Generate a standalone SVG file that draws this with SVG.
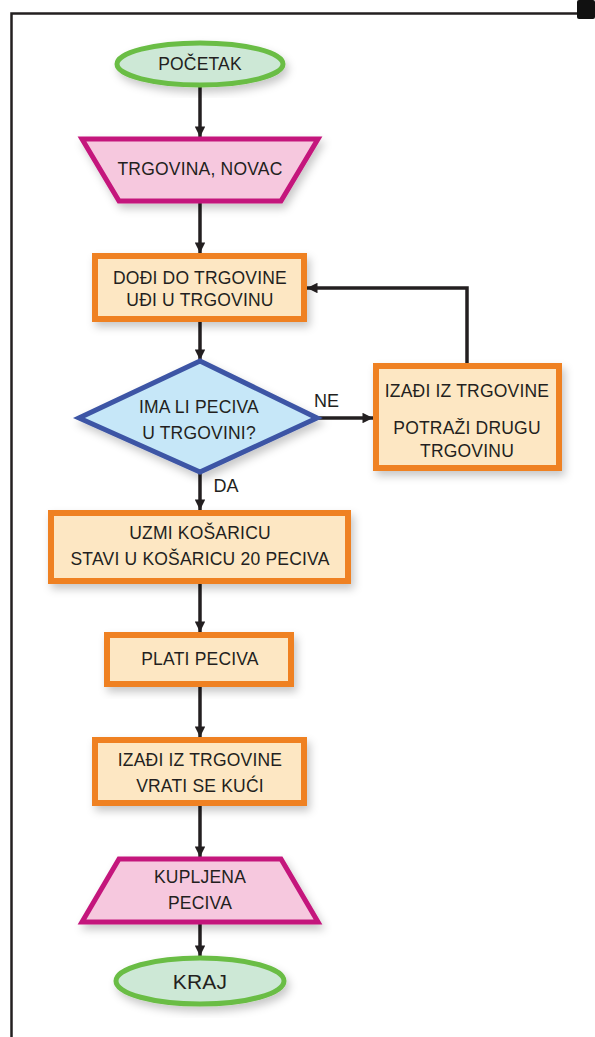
<svg xmlns="http://www.w3.org/2000/svg" width="595" height="1037" viewBox="0 0 595 1037">
<style>
text{font-family:"Liberation Sans",Arial,sans-serif;font-size:17.5px;fill:#231f20;text-anchor:middle;letter-spacing:0.2px}
.term{fill:#cde8d6;stroke:#6abd45;stroke-width:5}
.io{fill:#f6c8de;stroke:#c4177c;stroke-width:5;stroke-linejoin:miter}
.proc{fill:#fde7c3;stroke:#ef8123;stroke-width:6}
.dec{fill:#c6e7f8;stroke:#3c55a5;stroke-width:5;stroke-linejoin:miter}
.edge{fill:none;stroke:#231f20;stroke-width:3.5}
.lbl{font-size:18px;letter-spacing:0}
</style>
<defs>
<marker id="ah" viewBox="0 0 10 10" refX="10" refY="5" markerWidth="3.2" markerHeight="3" orient="auto" markerUnits="strokeWidth">
<path d="M0,0 L10,5 L0,10 z" fill="#231f20"/>
</marker>
<filter id="sh" x="-20%" y="-20%" width="140%" height="150%">
<feDropShadow dx="3" dy="5" stdDeviation="4" flood-color="#000" flood-opacity="0.22"/>
</filter>
</defs>
<rect width="595" height="1037" fill="#fff"/>
<g id="frame">
<path d="M11.5,1037 V13.5 H584" fill="none" stroke="#231f20" stroke-width="2.5"/>
<rect x="577" y="0" width="18" height="19" rx="2" fill="#111"/>
</g>
<g id="connectors">
<path class="edge" d="M200,86 V137" marker-end="url(#ah)"/>
<path class="edge" d="M200,202 V253" marker-end="url(#ah)"/>
<path class="edge" d="M200,322 V360" marker-end="url(#ah)"/>
<path class="edge" d="M318,418 H373" marker-end="url(#ah)"/>
<path class="edge" d="M467,363 V288 H307" marker-end="url(#ah)"/>
<path class="edge" d="M200,473 V510" marker-end="url(#ah)"/>
<path class="edge" d="M200,584 V632" marker-end="url(#ah)"/>
<path class="edge" d="M200,687 V737" marker-end="url(#ah)"/>
<path class="edge" d="M200,806 V857" marker-end="url(#ah)"/>
<path class="edge" d="M200,924 V956" marker-end="url(#ah)"/>
<text class="lbl" x="326.5" y="407">NE</text>
<text class="lbl" x="226" y="492">DA</text>
</g>
<g id="start">
<ellipse class="term" cx="200" cy="64" rx="83" ry="21" filter="url(#sh)"/>
<text x="200" y="70">POČETAK</text>
</g>
<g id="input">
<polygon class="io" points="82,139 318,139 281,201 119,201" filter="url(#sh)"/>
<text x="200" y="175">TRGOVINA, NOVAC</text>
</g>
<g id="goto">
<rect class="proc" x="95" y="256" width="209" height="63" filter="url(#sh)"/>
<text x="200" y="284">DOĐI DO TRGOVINE</text>
<text x="200" y="306">UĐI U TRGOVINU</text>
</g>
<g id="decision">
<polygon class="dec" points="200,361 317,418 200,472 79,418" filter="url(#sh)"/>
<text x="199" y="413">IMA LI PECIVA</text>
<text x="199" y="439">U TRGOVINI?</text>
</g>
<g id="other">
<rect class="proc" x="376" y="366" width="183" height="102" filter="url(#sh)"/>
<text x="467" y="397">IZAĐI IZ TRGOVINE</text>
<text x="467" y="434">POTRAŽI DRUGU</text>
<text x="467" y="457">TRGOVINU</text>
</g>
<g id="take">
<rect class="proc" x="51" y="513" width="297" height="68" filter="url(#sh)"/>
<text x="200" y="539">UZMI KOŠARICU</text>
<text x="200" y="565">STAVI U KOŠARICU 20 PECIVA</text>
</g>
<g id="pay">
<rect class="proc" x="107" y="635" width="184" height="49" filter="url(#sh)"/>
<text x="200" y="665">PLATI PECIVA</text>
</g>
<g id="home">
<rect class="proc" x="95" y="740" width="209" height="63" filter="url(#sh)"/>
<text x="200" y="766">IZAĐI IZ TRGOVINE</text>
<text x="200" y="792">VRATI SE KUĆI</text>
</g>
<g id="output">
<polygon class="io" points="119,859 281,859 318,922 82,922" filter="url(#sh)"/>
<text x="200" y="883">KUPLJENA</text>
<text x="200" y="909">PECIVA</text>
</g>
<g id="end">
<ellipse class="term" cx="200" cy="981" rx="84" ry="23" filter="url(#sh)"/>
<text x="200" y="989" style="font-size:21px">KRAJ</text>
</g>
</svg>
